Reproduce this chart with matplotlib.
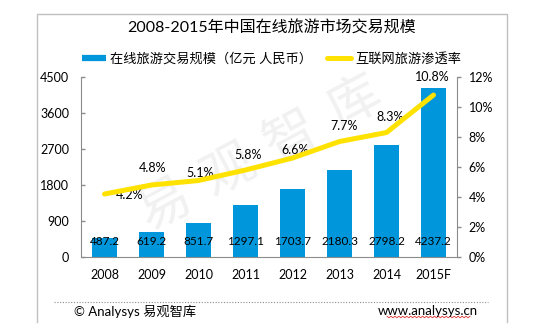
import matplotlib
matplotlib.use('Agg')
import matplotlib.pyplot as plt
from matplotlib.lines import Line2D
import numpy as np

plt.rcParams['font.family'] = ['Lato', 'Noto Sans CJK SC', 'DejaVu Sans']

years = ['2008', '2009', '2010', '2011', '2012', '2013', '2014', '2015F']
scale = [487.2, 619.2, 851.7, 1297.1, 1703.7, 2180.3, 2798.2, 4237.2]
rate = [4.2, 4.8, 5.1, 5.8, 6.6, 7.7, 8.3, 10.8]
left_ticks = [0, 900, 1800, 2700, 3600, 4500]
right_ticks = [0, 2, 4, 6, 8, 10, 12]

title = '2008-2015年中国在线旅游市场交易规模'
bar_name = '在线旅游交易规模（亿元 人民币）'
line_name = '互联网旅游渗透率'

BLUE = '#0096db'
YELLOW = '#ffe200'
SPINE = '#8c8c8c'

# label offsets for the percent labels (points)
rate_offsets = [(18, -1), (1, 12), (1, 5.5), (2, 11), (2, 6), (3, 11), (2.5, 11.5), (-1, 13)]

fig = plt.figure(figsize=(5.5, 3.33), dpi=100)
ax = fig.add_axes([0.1473, 0.2282, 0.6836, 0.5405])
ax.patch.set_visible(False)
x = np.arange(len(years))

ax.bar(x, scale, width=0.55, color=BLUE, zorder=2)
for xi, v in zip(x, scale):
    ax.annotate(f'{v:.1f}', (xi, 0), xytext=(0, 11), textcoords='offset points',
                ha='center', va='center', fontsize=8.5, color='black', zorder=3)

ax.set_xlim(-0.5, len(years) - 0.5)
ax.set_ylim(0, 4500)
ax.set_yticks(left_ticks)
ax.set_yticklabels([str(t) for t in left_ticks])
ax.set_xticks(x)
ax.set_xticklabels(years)
ax.tick_params(axis='x', length=0, pad=8.5, labelsize=9)
ax.tick_params(axis='y', direction='in', length=3, width=1, color=SPINE, pad=8.5, labelsize=9)
for s in ['top', 'right']:
    ax.spines[s].set_visible(False)
for s in ['left', 'bottom']:
    ax.spines[s].set_color(SPINE)

ax2 = ax.twinx()
ax2.plot(x, rate, color=YELLOW, lw=3.6, solid_capstyle='round', solid_joinstyle='round', zorder=4)
for xi, v, off in zip(x, rate, rate_offsets):
    ax2.annotate(f'{v}%', (xi, v), xytext=off, textcoords='offset points',
                 ha='center', va='center', fontsize=9, color='black')
ax2.set_ylim(0, 12)
ax2.set_yticks(right_ticks)
ax2.set_yticklabels([f'{t}%' for t in right_ticks])
ax2.tick_params(axis='y', direction='out', length=3, width=1, color=SPINE, pad=5.5, labelsize=9)
for s in ['top', 'left', 'bottom']:
    ax2.spines[s].set_visible(False)
ax2.spines['right'].set_color(SPINE)

handles = [Line2D([], [], color=BLUE, lw=4.5, solid_capstyle='butt'),
           Line2D([], [], color=YELLOW, lw=3.6, solid_capstyle='round')]
fig.legend(handles, [bar_name, line_name], loc='center', bbox_to_anchor=(0.4936, 0.826),
           ncol=2, frameon=False, fontsize=9.5, handlelength=1.8, handletextpad=0.3,
           columnspacing=1.2)

fig.text(0.4936, 0.916, title, ha='center', va='center', fontsize=11.5)

# watermark
for i, ch in enumerate('易观智库'):
    fig.text((165 + 63 * i) / 550, 1 - (204 - 34 * i) / 333, ch, rotation=28,
             ha='center', va='center', fontsize=38, color='#f1f1f1', zorder=-1,
             family='Noto Sans CJK SC')

# frame and footer
fig.add_artist(Line2D([0.0673, 0.0673, 0.9218, 0.9218], [0.033, 0.9565, 0.9565, 0.033],
                      color='#c0c0c0', lw=1, transform=fig.transFigure))
fig.add_artist(Line2D([0.098, 0.887], [0.093, 0.093], color='#8c8c8c', lw=0.8,
                      ls=(0, (1, 1.5)), transform=fig.transFigure))
fig.text(0.134, 0.066, '© Analysys 易观智库', ha='left', va='center', fontsize=9.5)
fig.text(0.687, 0.066, 'www.analysys.cn', ha='left', va='center', fontsize=9.5)
wx = np.linspace(387, 470, 43)
wy = 317 + np.where(np.arange(43) % 2 == 0, -0.8, 0.8)
fig.add_artist(Line2D(wx / 550, 1 - wy / 333, color='#e03030', lw=0.6,
                      transform=fig.transFigure))

fig.savefig('out.png', dpi=100)
